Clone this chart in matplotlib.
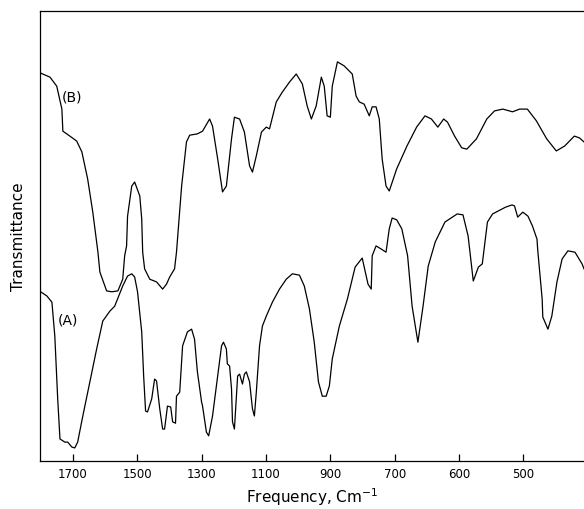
import matplotlib
matplotlib.use("Agg")
import matplotlib.pyplot as plt
import numpy as np

# wavenumber (cm-1) and relative transmittance
wn_b = [1800, 1771, 1750, 1734, 1731, 1719, 1688, 1672, 1654, 1638, 1622, 1616,
        1595, 1579, 1560, 1545, 1539, 1533, 1530, 1517, 1508, 1492, 1486, 1483,
        1477, 1461, 1440, 1421, 1409, 1399, 1384, 1378, 1362, 1347, 1337, 1313,
        1297, 1275, 1266, 1250, 1235, 1223, 1207, 1198, 1182, 1167, 1151, 1142,
        1130, 1114, 1099, 1089, 1068, 1049, 1027, 1006, 987, 972, 959, 944, 928,
        919, 910, 900, 894, 878, 857, 832, 820, 810, 795, 779, 770, 758, 748,
        739, 727, 717, 697, 681, 666, 653, 643, 633, 624, 618, 607, 596, 588,
        573, 557, 545, 532, 517, 506, 494, 480, 464, 449, 436, 421, 413, 406]
tr_b = [86.2, 85.3, 83.3, 78.2, 73.3, 72.7, 71.1, 68.7, 62.7, 55.3, 46.4, 42.0,
        37.8, 37.6, 37.8, 40.4, 45.6, 47.8, 54.4, 61.1, 62.0, 58.9, 53.8, 46.4,
        42.7, 40.4, 39.8, 38.2, 39.3, 40.9, 42.7, 46.4, 61.1, 70.9, 72.4, 72.7,
        73.3, 76.0, 74.4, 67.1, 59.8, 61.1, 71.6, 76.4, 76.0, 73.1, 65.6, 64.2,
        67.8, 73.1, 74.2, 73.8, 79.8, 82.0, 84.2, 86.0, 83.8, 78.9, 76.0, 78.9,
        85.3, 83.3, 76.7, 76.4, 83.3, 88.7, 87.8, 86.0, 81.1, 79.8, 79.3, 76.7,
        78.7, 78.7, 76.0, 67.1, 61.1, 60.0, 64.9, 70.0, 74.2, 76.7, 76.0, 74.2,
        76.0, 75.3, 72.2, 69.6, 69.3, 71.6, 76.0, 77.8, 78.2, 77.6, 78.2, 78.2,
        75.6, 71.6, 68.9, 70.0, 72.2, 71.8, 70.9]

wn_a = [1800, 1781, 1765, 1756, 1747, 1740, 1725, 1716, 1703, 1694, 1685, 1669,
        1647, 1626, 1607, 1585, 1570, 1545, 1530, 1517, 1508, 1499, 1486, 1480,
        1474, 1468, 1455, 1446, 1440, 1430, 1421, 1415, 1406, 1396, 1390, 1381,
        1378, 1368, 1359, 1344, 1331, 1322, 1313, 1300, 1297, 1285, 1278, 1266,
        1250, 1238, 1232, 1223, 1220, 1213, 1207, 1204, 1198, 1188, 1182, 1173,
        1167, 1161, 1151, 1142, 1136, 1130, 1120, 1111, 1099, 1080, 1058, 1037,
        1018, 996, 981, 965, 950, 937, 925, 913, 903, 894, 872, 847, 823, 801,
        792, 783, 773, 770, 758, 742, 727, 717, 708, 697, 689, 680, 673, 664,
        656, 648, 637, 622, 603, 594, 586, 578, 570, 564, 556, 548, 528, 518,
        514, 509, 501, 493, 486, 479, 478, 471, 470, 462, 456, 448, 440, 431,
        420, 409, 406]
tr_a = [37.6, 36.7, 35.3, 27.8, 13.8, 4.9, 4.2, 4.2, 3.1, 2.9, 4.2, 10.0,
        17.6, 24.9, 31.1, 33.3, 34.4, 38.9, 41.1, 41.6, 40.9, 37.6, 28.7, 18.9,
        11.1, 10.9, 13.8, 18.2, 17.8, 11.6, 7.1, 7.1, 12.2, 12.0, 8.7, 8.4,
        14.4, 15.3, 25.6, 28.7, 29.3, 27.1, 19.8, 13.1, 12.2, 6.4, 5.6, 10.0,
        18.9, 25.6, 26.4, 24.9, 21.6, 21.1, 16.0, 8.7, 7.1, 18.9, 19.3, 17.1,
        19.3, 19.8, 17.6, 11.6, 10.0, 15.3, 25.6, 30.0, 32.2, 35.3, 38.2, 40.4,
        41.6, 41.3, 38.9, 33.8, 26.4, 17.6, 14.4, 14.4, 16.7, 22.7, 30.0, 36.0,
        43.1, 45.1, 42.2, 39.3, 38.2, 45.6, 47.8, 47.1, 46.4, 51.6, 54.0, 53.6,
        51.6, 45.6, 34.4, 26.4, 34.4, 43.3, 48.7, 53.1, 54.9, 54.7, 50.0, 40.0,
        43.1, 43.8, 53.1, 54.9, 56.4, 56.9, 56.7, 54.2, 55.3, 54.4, 52.2, 49.3,
        47.1, 36.0, 32.0, 29.3, 32.2, 39.8, 44.9, 46.7, 46.4, 43.8, 42.7]

tick_vals = [1700, 1500, 1300, 1100, 900, 700, 600, 500]


# chart paper scale doubles below 700 cm-1
def fwd(x):
    x = np.asarray(x, dtype=float)
    return np.where(x >= 700, x, 2 * x - 700)


def inv(u):
    u = np.asarray(u, dtype=float)
    return np.where(u >= 700, u, (u + 700) / 2)


fig = plt.figure(figsize=(5.84, 5.10), dpi=100)
ax = fig.add_axes([40 / 584, 48 / 510, 544 / 584, 450 / 510])
ax.set_xscale('function', functions=(fwd, inv))

ax.plot(wn_b, tr_b, color='black', lw=0.9)
ax.plot(wn_a, tr_a, color='black', lw=0.9)

ax.set_xlim(1802, 406)
ax.set_ylim(0, 100)

ax.set_xticks(tick_vals)
ax.set_xticklabels([str(v) for v in tick_vals])
ax.xaxis.set_minor_locator(matplotlib.ticker.NullLocator())
ax.tick_params(axis='x', direction='in', length=5, width=0.9, labelsize=8.5, pad=4)
ax.set_yticks([])
ax.spines['right'].set_visible(False)
for s in ['left', 'top', 'bottom']:
    ax.spines[s].set_linewidth(0.9)

ax.text(1703, 81, '(B)', fontsize=10, ha='center', va='center')
ax.text(1715, 31.5, '(A)', fontsize=10, ha='center', va='center')

ax.set_xlabel('Frequency, Cm$^{-1}$', fontsize=11, labelpad=4)
ax.set_ylabel('Transmittance', fontsize=11, labelpad=10)

fig.savefig('out.png', dpi=100)
